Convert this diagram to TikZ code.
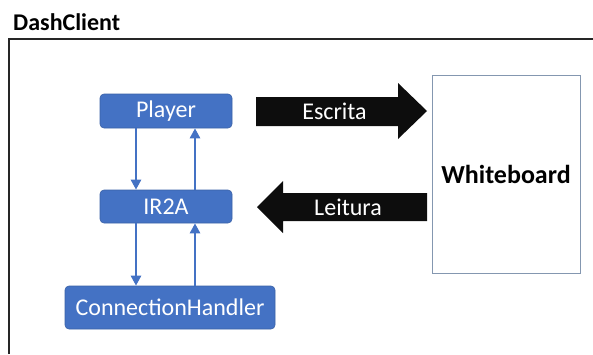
\documentclass[tikz,border=0pt]{standalone}
\usepackage{fontspec}
\setmainfont{Carlito}
\usetikzlibrary{arrows.meta}
\definecolor{boxblue}{HTML}{4472C4}
\definecolor{boardline}{HTML}{8497B0}
\begin{document}
\begin{tikzpicture}[x=1pt,y=-1pt,
  module/.style={draw=boxblue!85!black, line width=0.6pt, fill=boxblue, rounded corners=4pt,
    text=white, font=\fontsize{24}{26}\selectfont, inner sep=0pt},
  flow/.style={draw=boxblue, line width=2.8pt, -{Triangle[length=10pt,width=10pt]}},
  blockarrow/.style={fill=black!95},
  arrowtext/.style={text=white, font=\fontsize{24}{26}\selectfont, inner sep=0pt}]
  \useasboundingbox (0,0) rectangle (593,354);

  % title and client frame
  \node[anchor=west, font=\bfseries\fontsize{24}{26}\selectfont, inner sep=0pt] (title) at (13,22) {DashClient};
  \draw[line width=2pt, black!85] (9,354) -- (9,38.5) -- (593,38.5);

  % client modules
  \node[module, minimum width=132pt, minimum height=34pt] (player) at (166,111) {Player};
  \node[module, minimum width=132pt, minimum height=33pt] (ir2a) at (166,206.5) {IR2A};
  \node[module, minimum width=210pt, minimum height=43pt] (conn) at (170,307.5) {ConnectionHandler};

  % calls between modules
  \draw[flow] (player.south -| 136,0) -- (ir2a.north -| 136,0);
  \draw[flow] (ir2a.north -| 195,0) -- (player.south -| 195,0);
  \draw[flow] (ir2a.south -| 136,0) -- (conn.north -| 136,0);
  \draw[flow] (conn.north -| 195,0) -- (ir2a.south -| 195,0);

  % shared whiteboard
  \node[draw=boardline, line width=0.9pt, minimum width=148pt, minimum height=198pt, inner sep=0pt,
    font=\bfseries\fontsize{26}{28}\selectfont] (board) at (506,174) {Whiteboard};

  % write and read block arrows
  \fill[blockarrow] (256,97) -- (398,97) -- (398,83) -- (427,111) -- (398,139) -- (398,126) -- (256,126) -- cycle;
  \node[arrowtext] (escrita) at (334.5,111) {Escrita};
  \fill[blockarrow] (427,193) -- (283,193) -- (283,181) -- (257,207) -- (283,233) -- (283,221) -- (427,221) -- cycle;
  \node[arrowtext] (leitura) at (348,207) {Leitura};
\end{tikzpicture}
\end{document}
